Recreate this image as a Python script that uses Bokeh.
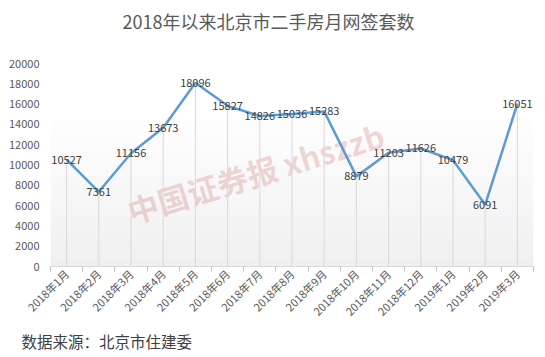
from bokeh.plotting import figure
from bokeh.models import FixedTicker, Label, BoxAnnotation, ColumnDataSource, Title
from bokeh.embed import file_html
from bokeh.resources import INLINE
import math

months = ["2018年1月", "2018年2月", "2018年3月", "2018年4月", "2018年5月", "2018年6月",
          "2018年7月", "2018年8月", "2018年9月", "2018年10月", "2018年11月", "2018年12月",
          "2019年1月", "2019年2月", "2019年3月"]
values = [10527, 7361, 11156, 13673, 18096, 15827, 14826, 15036, 15283, 8879,
          11203, 11626, 10479, 6091, 16051]
y_ticks = [0, 2000, 4000, 6000, 8000, 10000, 12000, 14000, 16000, 18000, 20000]

title_text = "2018年以来北京市二手房月网签套数"
source_text = "数据来源：北京市住建委"
watermark_text = "中国证券报 xhszzb"

FONT = "Noto Sans CJK SC"
xs = list(range(1, len(months) + 1))

# layout (pixels): plot area spans from the canvas top to the x axis; the value
# range is stretched so that 20000 sits 63px below the top, leaving room for the title
H = 351
FRAME_BOTTOM = 266
TOP_GAP = 63
y_end = y_ticks[-1] * FRAME_BOTTOM / (FRAME_BOTTOM - TOP_GAP)

p = figure(width=536, height=H, output_backend="svg", toolbar_location=None,
           x_range=(0.5, len(months) + 0.5), y_range=(0, y_end),
           min_border_left=50, min_border_right=3, min_border_top=0, min_border_bottom=82)
p.outline_line_color = None
p.background_fill_color = "white"
p.border_fill_color = "white"
p.xgrid.grid_line_color = None
p.ygrid.grid_line_color = None

# gradient background
nb = 16
for i in range(nb):
    c = int(round(240 + (255 - 240) * (i / (nb - 1))))
    p.add_layout(BoxAnnotation(bottom=i * 1000, top=(i + 1) * 1000,
                               fill_color=f"#{c:02x}{c:02x}{c:02x}", fill_alpha=1.0,
                               line_color=None, level="underlay"))

wm = Label(x=205, y=94, x_units="screen", y_units="screen", text=watermark_text,
           text_font=FONT, text_font_size="31px", text_font_style="bold",
           text_color="#c0504d", text_alpha=0.22, angle=math.radians(17),
           text_align="center", text_baseline="middle", level="underlay")
p.add_layout(wm)

src = ColumnDataSource(dict(x=xs, y=values, zero=[0] * len(xs),
                            lab=[str(v) for v in values]))
p.segment(x0="x", y0="zero", x1="x", y1="y", source=src, line_color="#d9d9d9", line_width=1)
p.line(x="x", y="y", source=src, line_color="#5b9bd5", line_width=2.5)
p.text(x="x", y="y", text="lab", source=src, text_font={"value": FONT},
       text_font_size="11px", text_color="#404040", text_align="center",
       text_baseline="middle")

p.add_layout(Label(x=72, y=FRAME_BOTTOM - 20, x_units="screen", y_units="screen",
                   text=title_text, text_font=FONT, text_font_size="18px",
                   text_color="#595959", text_align="left", text_baseline="middle"))

# axes
p.xaxis.ticker = FixedTicker(ticks=xs, minor_ticks=[x - 0.5 for x in xs] + [len(xs) + 0.5])
p.xaxis.major_label_overrides = {x: m for x, m in zip(xs, months)}
p.xaxis.major_label_orientation = math.pi / 4
p.xaxis.major_tick_line_color = None
p.xaxis.major_tick_out = 0
p.xaxis.major_tick_in = 0
p.xaxis.minor_tick_line_color = "#bfbfbf"
p.xaxis.minor_tick_out = 5
p.xaxis.minor_tick_in = 0
p.xaxis.axis_line_color = "#d9d9d9"
p.xaxis.major_label_text_font = FONT
p.xaxis.major_label_text_font_size = "11px"
p.xaxis.major_label_text_color = "#595959"
p.xaxis.major_label_standoff = 0

p.yaxis.ticker = FixedTicker(ticks=y_ticks)
p.yaxis.axis_line_color = None
p.yaxis.major_tick_line_color = None
p.yaxis.major_tick_out = 0
p.yaxis.minor_tick_line_color = None
p.yaxis.major_label_standoff = 11
p.yaxis.major_label_text_font = FONT
p.yaxis.major_label_text_font_size = "11px"
p.yaxis.major_label_text_color = "#595959"

foot = Title(text=source_text, align="left", offset=-29, standoff=0, text_font=FONT,
             text_font_size="15.5px", text_font_style="normal", text_color="#404040")
p.add_layout(foot, "below")

open("out.html", "w").write(file_html(p, INLINE))
